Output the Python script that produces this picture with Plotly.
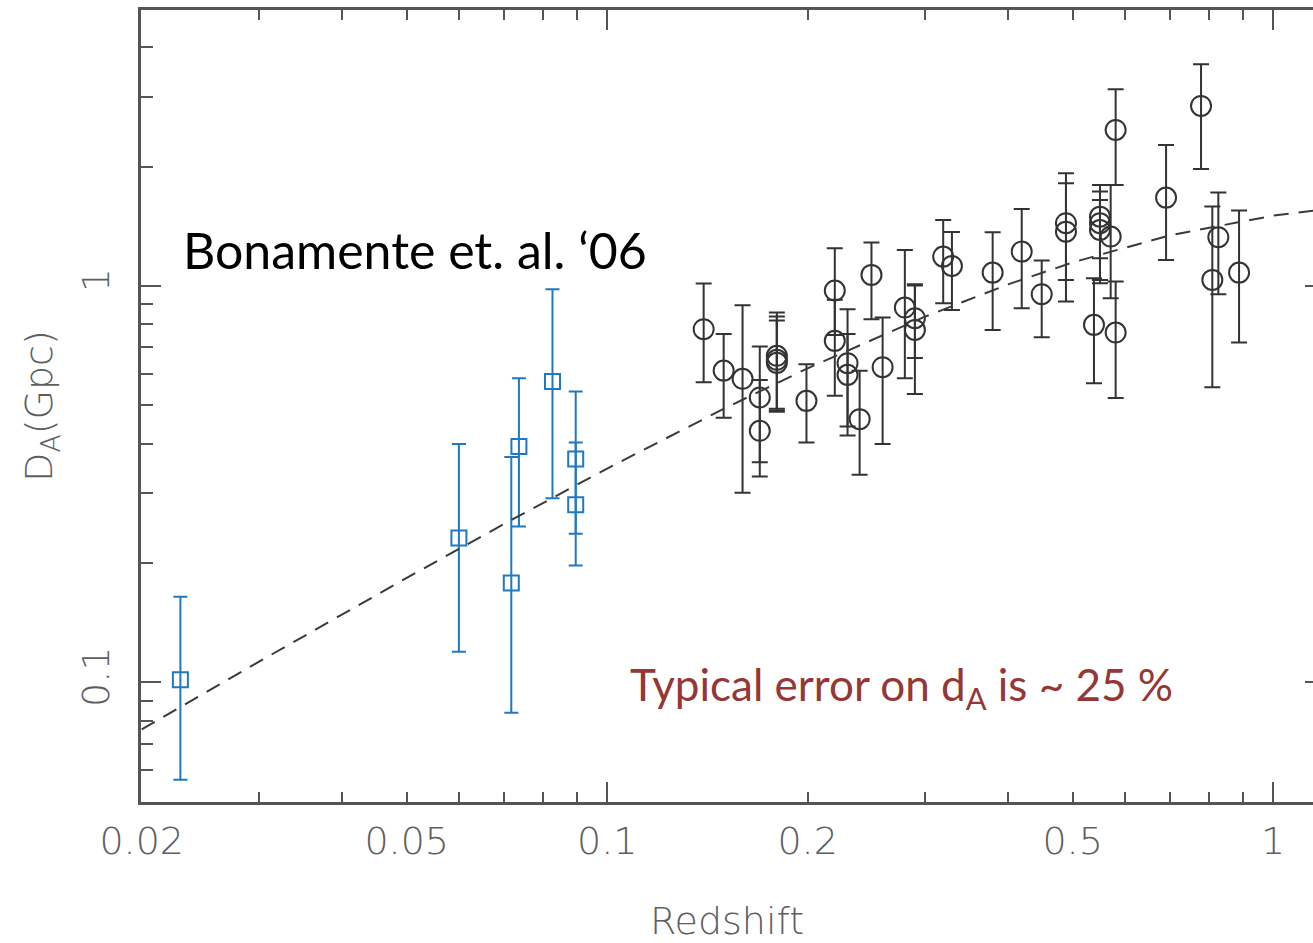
import plotly.graph_objects as go
import numpy as np

# ---- data ----
# Blue squares (low-z clusters)
z_low = [0.02286, 0.05989, 0.07178, 0.07370, 0.08277, 0.08969, 0.08969]
da_low = [0.1016, 0.2312, 0.1781, 0.3935, 0.5740, 0.3657, 0.2805]
da_low_hi = [0.1644, 0.399, 0.370, 0.5853, 0.981, 0.5415, 0.4027]
da_low_lo = [0.0568, 0.1195, 0.0839, 0.2473, 0.2915, 0.2370, 0.1972]

# Black circles
z_hi = [0.1396, 0.1496, 0.1597, 0.1695, 0.1695, 0.1798, 0.1798, 0.1798, 0.1992,
        0.2197, 0.2197, 0.2296, 0.2296, 0.2394, 0.2494, 0.2592, 0.2799, 0.2898,
        0.2898, 0.3196, 0.3294, 0.3792, 0.4193, 0.4493, 0.4886, 0.4886, 0.5496,
        0.5496, 0.5496, 0.5383, 0.5703, 0.5802, 0.5802, 0.6907, 0.7795, 0.8275,
        0.8105, 0.8890]
da_hi = [0.7777, 0.6114, 0.5829, 0.5231, 0.4310, 0.6662, 0.6509, 0.6396, 0.5129,
         0.9731, 0.7267, 0.6384, 0.5965, 0.4613, 1.0659, 0.6238, 0.8816, 0.8290,
         0.7745, 1.1854, 1.1230, 1.0802, 1.2203, 0.9530, 1.4388, 1.3702, 1.4950,
         1.4388, 1.3838, 0.7975, 1.3314, 2.4735, 0.7625, 1.6695, 2.8427, 1.3268,
         1.0354, 1.0802]
da_hi_hi = [1.0134, 0.7568, 0.8941, 0.7030, 0.5794, 0.8564, 0.8367, 0.8177, 0.6348,
            1.2448, 0.9220, 0.8736, 0.7568, 0.6106, 1.2857, 0.8319, 1.2325, 1.0099,
            1.0029, 1.4666, 1.3679, 1.3655, 1.5635, 1.1583, 1.9235, 1.8151, 1.7970,
            1.7291, 1.6473, 1.0457, 1.7970, 3.1319, 1.0252, 2.2670, 3.6226, 1.7191,
            1.5846, 1.5482]
da_hi_lo = [0.5718, 0.4649, 0.3008, 0.3593, 0.3306, 0.4897, 0.4849, 0.4813, 0.4027,
            0.7523, 0.5283, 0.4418, 0.4195, 0.3339, 0.8243, 0.3990, 0.5853, 0.6574,
            0.5340, 0.9045, 0.8699, 0.7745, 0.8786, 0.7425, 1.0354, 0.9129, 1.1743,
            1.0354, 1.0158, 0.5685, 0.9312, 1.7970, 0.5212, 1.1629, 1.9720, 0.9530,
            0.5555, 0.7195]

# Dashed model curve
z_model = [0.02, 0.03, 0.05, 0.07, 0.1, 0.15, 0.2, 0.3, 0.4, 0.5, 0.7, 1.0, 1.15]
da_model = [0.0761, 0.1128, 0.1835, 0.2509, 0.3463, 0.4908, 0.6195, 0.8362,
            1.0087, 1.146, 1.3415, 1.5036, 1.5466]

x_tickvals = [0.02, 0.05, 0.1, 0.2, 0.5, 1]
x_ticktext = ["0.02", "0.05", "0.1", "0.2", "0.5", "1"]
x_minor = [0.03, 0.04, 0.06, 0.07, 0.08, 0.09, 0.3, 0.4, 0.6, 0.7, 0.8, 0.9]
x_major_long = [0.1, 1]
y_tickvals = [0.1, 1]
y_ticktext = ["0.1", "1"]
y_minor = [0.06, 0.07, 0.08, 0.09, 0.2, 0.3, 0.4, 0.5, 0.6, 0.7, 0.8, 0.9, 2, 3, 4]

XR = [np.log10(0.01995), np.log10(1.148)]
YR = [np.log10(0.04994), np.log10(4.963)]

AX_COL = "#555555"
LBL_COL = "#5e5e5e"
BLUE = "#1f78c1"
BLACK = "#333333"

fig = go.Figure()

fig.add_trace(go.Scatter(
    x=z_model, y=da_model, mode="lines", xaxis="x2", yaxis="y2",
    line=dict(color="#3a3a3a", width=2, dash="15px,10px"),
    showlegend=False, hoverinfo="skip"))

fig.add_trace(go.Scatter(
    x=z_low, y=da_low, mode="markers",
    marker=dict(symbol="square-open", size=15, color=BLUE, line=dict(width=2, color=BLUE)),
    error_y=dict(type="data", symmetric=False,
                 array=[h - v for h, v in zip(da_low_hi, da_low)],
                 arrayminus=[v - l for v, l in zip(da_low, da_low_lo)],
                 color=BLUE, thickness=2, width=7),
    showlegend=False))

fig.add_trace(go.Scatter(
    x=z_hi, y=da_hi, mode="markers",
    marker=dict(symbol="circle-open", size=20, color=BLACK, line=dict(width=2, color=BLACK)),
    error_y=dict(type="data", symmetric=False,
                 array=[h - v for h, v in zip(da_hi_hi, da_hi)],
                 arrayminus=[v - l for v, l in zip(da_hi, da_hi_lo)],
                 color=BLACK, thickness=2, width=8),
    showlegend=False))

tick_font = dict(family="DejaVu Sans", size=38, color=LBL_COL, weight=200)

fig.update_layout(
    width=1313, height=943,
    margin=dict(l=141, r=0, t=10, b=141),
    paper_bgcolor="white", plot_bgcolor="white",
    showlegend=False,
    xaxis=dict(
        type="log", range=XR, tickvals=x_tickvals, ticktext=x_ticktext,
        ticks="inside", ticklen=10, tickwidth=2, tickcolor=AX_COL,
        minor=dict(tickvals=x_minor, ticks="inside", ticklen=10, tickwidth=2, tickcolor=AX_COL),
        showline=True, linecolor=AX_COL, linewidth=2.5, mirror="ticks",
        showgrid=False, zeroline=False, tickfont=tick_font, ticklabelstandoff=4,
        title=dict(text="Redshift", font=dict(family="DejaVu Sans", size=38, color=LBL_COL, weight=200),
                   standoff=46),
    ),
    xaxis2=dict(
        type="log", range=XR, overlaying="x", anchor="y", side="bottom",
        tickvals=x_major_long, ticks="inside", ticklen=20, tickwidth=2, tickcolor=AX_COL,
        showticklabels=False, showline=True, linecolor=AX_COL, linewidth=2.5,
        mirror="ticks", showgrid=False, zeroline=False,
    ),
    yaxis=dict(
        type="log", range=YR, tickvals=y_tickvals, ticktext=y_ticktext,
        ticks="inside", ticklen=20, tickwidth=2, tickcolor=AX_COL,
        minor=dict(tickvals=y_minor, ticks="inside", ticklen=12, tickwidth=2, tickcolor=AX_COL),
        showline=True, linecolor=AX_COL, linewidth=2.5, mirror=False,
        showgrid=False, zeroline=False, tickfont=tick_font, tickangle=-90,
        ticklabelstandoff=14,
        title=dict(text="D<sub>A</sub>(Gpc)", font=dict(family="DejaVu Sans", size=38, color=LBL_COL, weight=200),
                   standoff=10),
    ),
    yaxis2=dict(
        type="log", range=YR, overlaying="y", anchor="x", side="right",
        tickvals=y_tickvals, ticks="inside", ticklen=8, tickwidth=2, tickcolor=AX_COL,
        showticklabels=False, showline=False, showgrid=False, zeroline=False,
    ),
    annotations=[
        dict(text="Bonamente et. al. \u201806", xref="paper", yref="paper",
             x=0.2334, y=0.697, xanchor="center", yanchor="middle", showarrow=False,
             font=dict(family="Lato", size=50, color="black")),
        dict(text="Typical error on d<sub>A</sub> is ~ 25 %", xref="paper", yref="paper",
             x=0.6493, y=0.144, xanchor="center", yanchor="middle", showarrow=False,
             font=dict(family="Lato", size=44, color="#953735")),
    ],
)

fig.write_html("out.html")
